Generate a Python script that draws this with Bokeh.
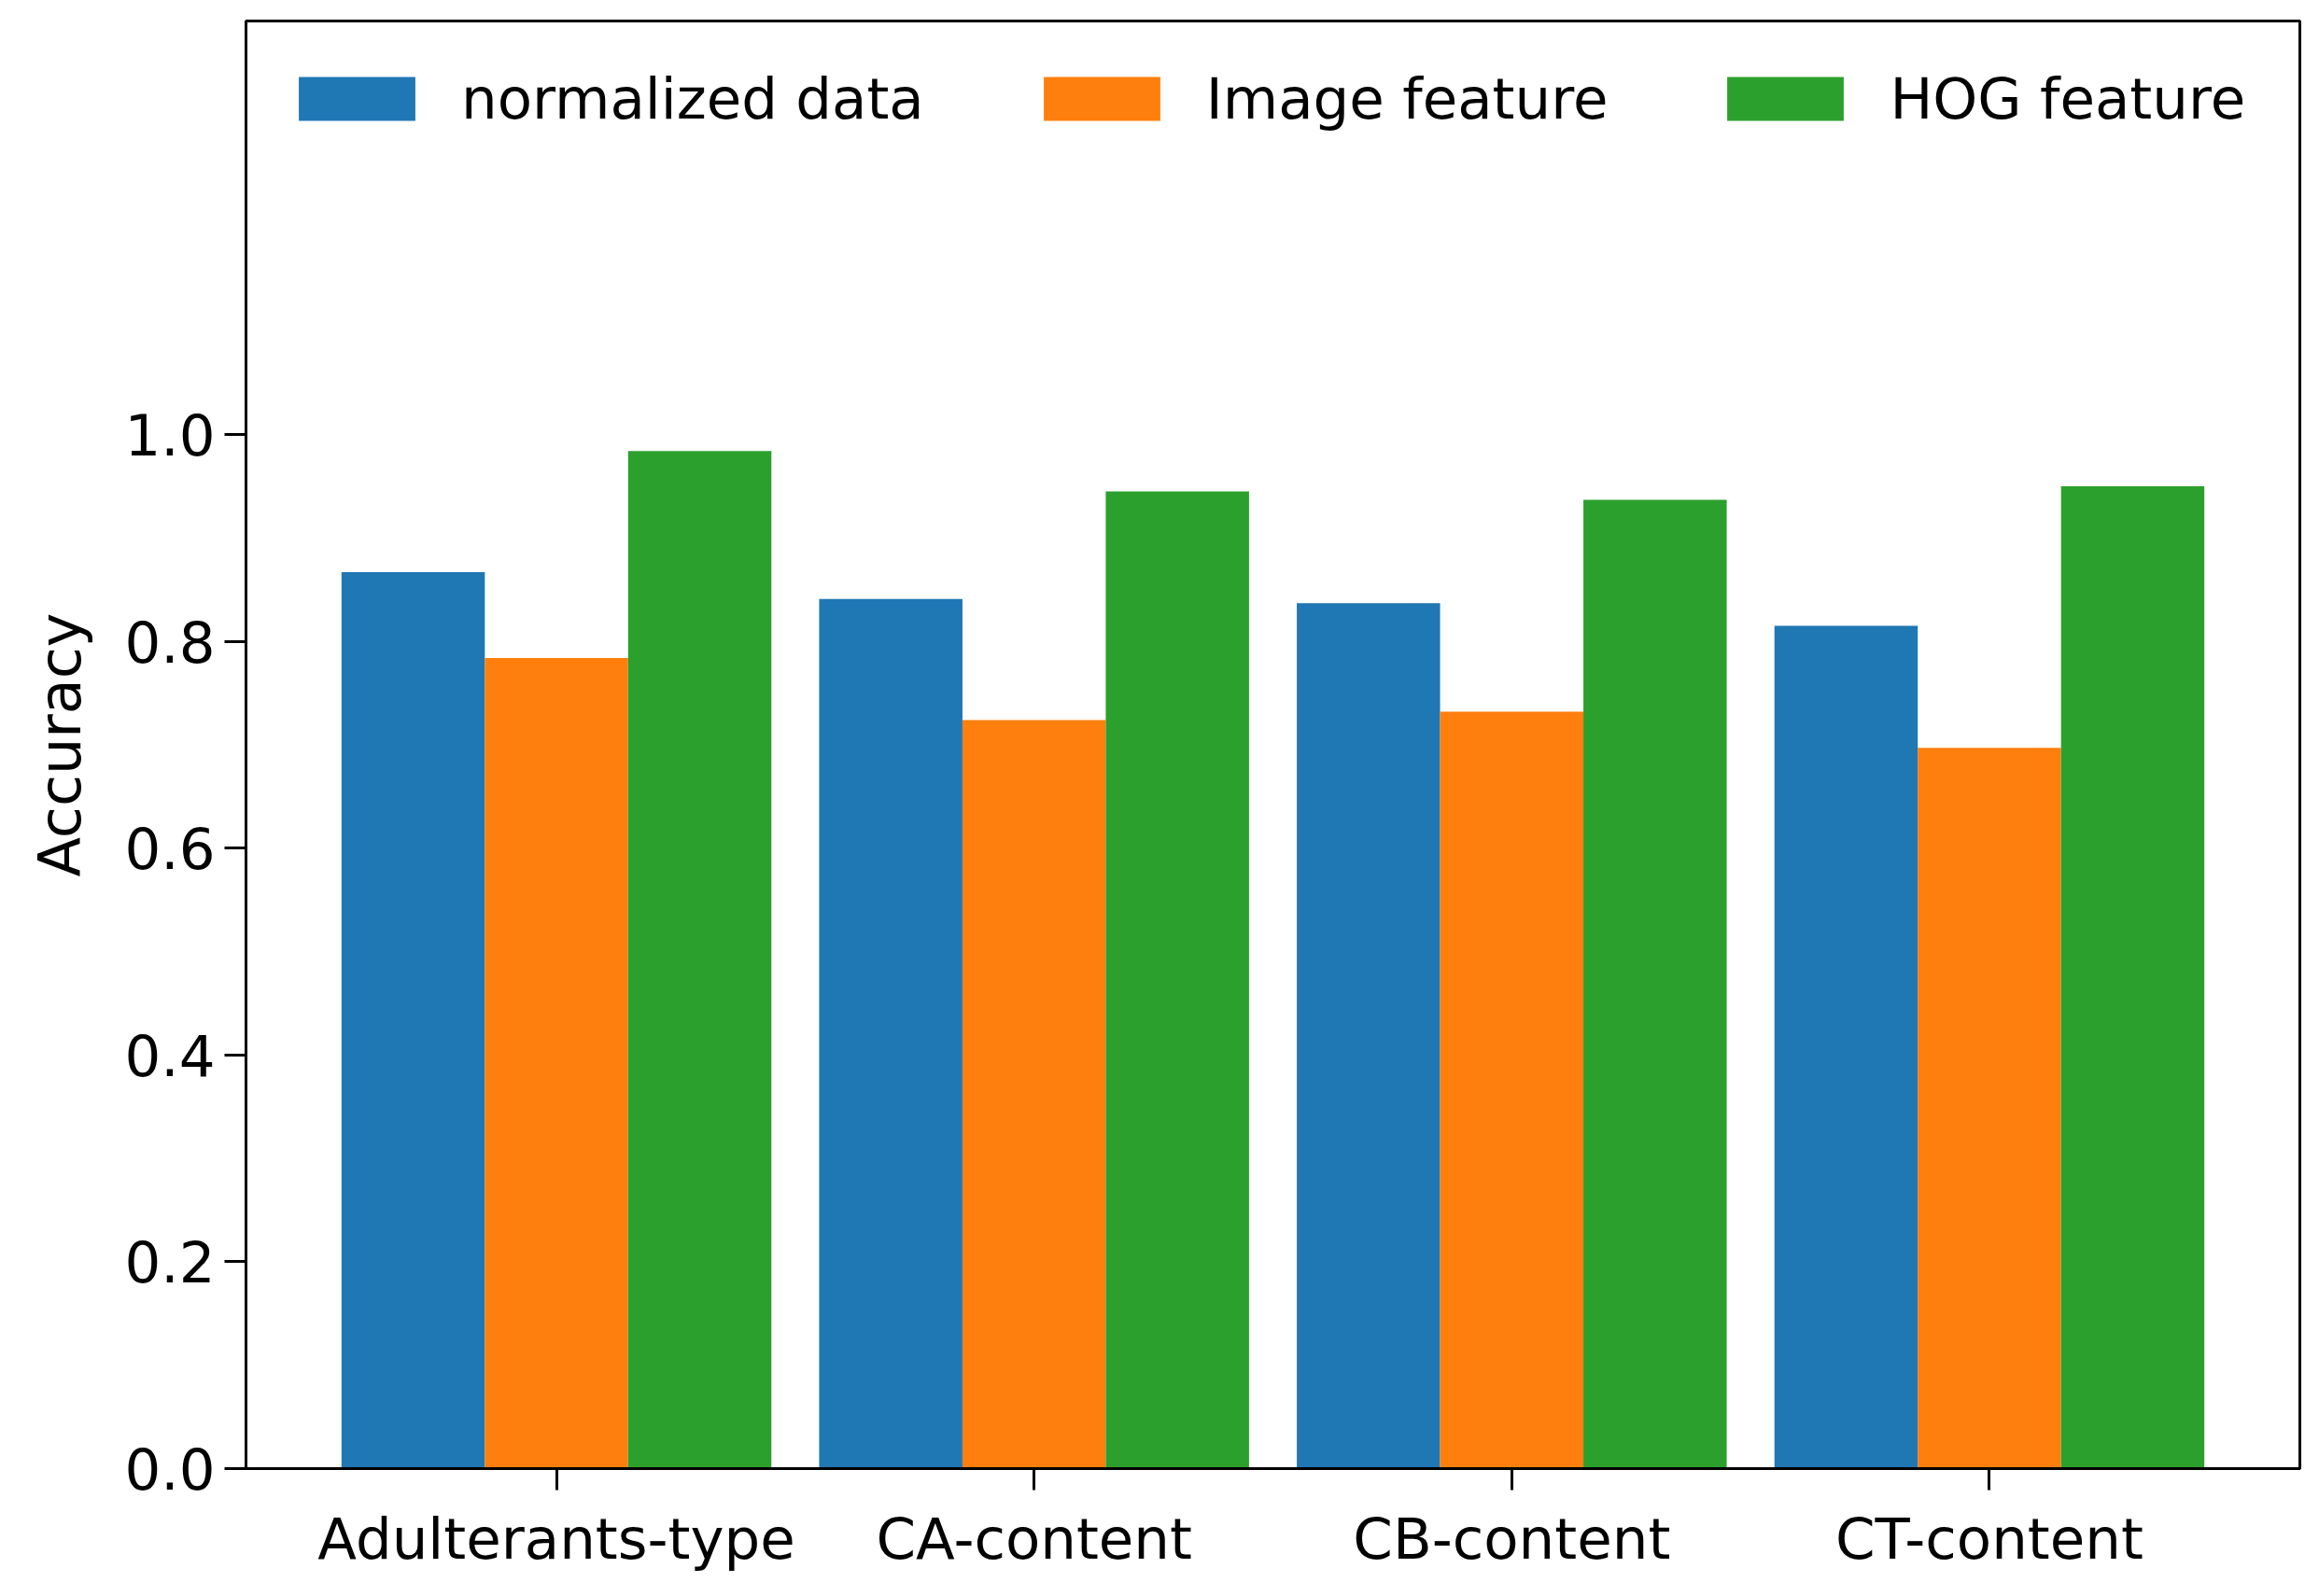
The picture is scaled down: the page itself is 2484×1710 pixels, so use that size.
import numpy as np
from bokeh.plotting import figure
from bokeh.models import (ColumnDataSource, Range1d, FixedTicker, PrintfTickFormatter,
                          Legend, LegendItem)
from bokeh.embed import file_html
from bokeh.resources import INLINE

categories = ["Adulterants-type", "CA-content", "CB-content", "CT-content"]
series_names = ["normalized data", "Image feature", "HOG feature"]
normalized = [0.867, 0.841, 0.837, 0.815]
image_feat = [0.784, 0.724, 0.732, 0.697]
hog_feat = [0.984, 0.945, 0.937, 0.950]
colors = ["#1f77b4", "#ff7f0e", "#2ca02c"]
y_ticks = [0.0, 0.2, 0.4, 0.6, 0.8, 1.0]

W, H = 2476, 1702
p = figure(width=W, height=H, output_backend="svg", toolbar_location=None,
           x_range=Range1d(-0.65, 3.65), y_range=Range1d(0, 1.4),
           min_border_left=263, min_border_right=13, min_border_top=22,
           min_border_bottom=129)
p.background_fill_color = "white"
p.border_fill_color = "white"
p.outline_line_color = "black"
p.outline_line_width = 3
p.xgrid.visible = False
p.ygrid.visible = False

idx = np.arange(len(categories))
bar_w = 0.3
items = []
for k, (vals, name, col) in enumerate(zip([normalized, image_feat, hog_feat], series_names, colors)):
    src = ColumnDataSource(dict(x=idx + (k - 1) * bar_w, top=vals))
    r = p.vbar(x="x", top="top", width=bar_w, bottom=0, source=src,
               fill_color=col, line_color=None)
    items.append(LegendItem(label=name, renderers=[r]))

legend = Legend(items=items, orientation="horizontal", location="top_left",
                margin=0, padding=41, spacing=112, glyph_width=156, glyph_height=59,
                label_height=85, label_standoff=34, border_line_alpha=0,
                background_fill_alpha=0,
                label_text_font="DejaVu Sans", label_text_font_size="61px",
                label_text_color="black")
p.add_layout(legend, "center")

for ax in (p.xaxis[0], p.yaxis[0]):
    ax.axis_line_color = "black"
    ax.axis_line_width = 3
    ax.major_tick_line_color = "black"
    ax.major_tick_line_width = 3
    ax.major_tick_in = 0
    ax.major_tick_out = 23
    ax.minor_tick_line_color = None
    ax.major_label_text_font = "DejaVu Sans"
    ax.major_label_text_font_size = "61px"
    ax.major_label_text_color = "black"

p.xaxis.ticker = FixedTicker(ticks=list(idx))
p.xaxis.major_label_overrides = {int(i): c for i, c in zip(idx, categories)}
p.xaxis.major_label_standoff = 16

p.yaxis.ticker = FixedTicker(ticks=y_ticks)
p.yaxis.formatter = PrintfTickFormatter(format="%.1f")
p.yaxis.major_label_standoff = 10
p.yaxis.axis_label = "Accuracy"
p.yaxis.axis_label_text_font = "DejaVu Sans"
p.yaxis.axis_label_text_font_size = "62px"
p.yaxis.axis_label_text_font_style = "normal"
p.yaxis.axis_label_text_color = "black"
p.yaxis.axis_label_standoff = 29

open("out.html", "w").write(file_html(p, INLINE))
